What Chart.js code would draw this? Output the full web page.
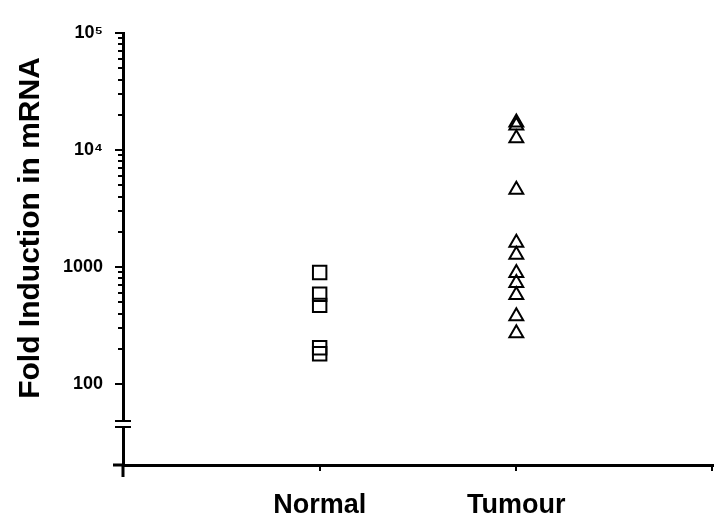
<!DOCTYPE html>
<html>
<head>
<meta charset="utf-8">
<script src="https://cdn.jsdelivr.net/npm/chart.js@4.4.1/dist/chart.umd.min.js"></script>
<style>
  html, body { margin: 0; padding: 0; background: #fff; }
  #wrap { width: 716px; height: 516px; }
</style>
</head>
<body>
<div id="wrap"><canvas id="chart" width="716" height="516"></canvas></div>
<script>
// data
const categories = ['Normal', 'Tumour'];
const normalValues = [897, 585, 470, 204, 181];
const tumourValues = [17200, 16200, 12600, 4580, 1610, 1270, 888, 729, 575, 380, 271];
const yTickValues = [100, 1000, 10000, 100000];
const yTickLabels = ['100', '1000', '10\u2074', '10\u2075'];
const yAxisTitle = 'Fold Induction in mRNA';

const ctx = document.getElementById('chart').getContext('2d');
const FONT = '"Liberation Sans", Arial, sans-serif';

// minor log ticks, axis break and the small axis overhangs
const axisExtras = {
  id: 'axisExtras',
  afterDraw(chart) {
    const { ctx, scales: { x, y }, chartArea: a } = chart;
    const ax = a.left;
    ctx.save();
    ctx.strokeStyle = '#000';
    ctx.lineWidth = 2;

    // y ticks (major longer)
    ctx.beginPath();
    for (let d = 2; d <= 5; d++) {
      for (let m = 1; m <= 9; m++) {
        const v = m * Math.pow(10, d);
        if (v > y.max) break;
        const py = Math.round(y.getPixelForValue(v));
        const len = m === 1 ? 8 : 5;
        ctx.moveTo(ax - len, py);
        ctx.lineTo(ax, py);
      }
    }
    ctx.stroke();

    // x ticks
    ctx.beginPath();
    [1, 2, 3].forEach(v => {
      const px = Math.min(Math.round(x.getPixelForValue(v)), a.right - 1);
      ctx.moveTo(px, a.bottom);
      ctx.lineTo(px, a.bottom + 6);
    });
    ctx.stroke();

    // overhangs at the origin
    ctx.lineWidth = 3;
    ctx.beginPath();
    ctx.moveTo(ax, a.bottom);
    ctx.lineTo(ax, a.bottom + 12);
    ctx.moveTo(ax - 10, a.bottom);
    ctx.lineTo(ax, a.bottom);
    ctx.stroke();

    // axis break
    const yb = Math.round((y.getPixelForValue(100) + a.bottom) / 2);
    ctx.fillStyle = '#fff';
    ctx.fillRect(ax - 3, yb - 3, 6, 6);
    ctx.lineWidth = 2;
    ctx.beginPath();
    ctx.moveTo(ax - 8, yb - 3);
    ctx.lineTo(ax + 8, yb - 3);
    ctx.moveTo(ax - 8, yb + 3);
    ctx.lineTo(ax + 8, yb + 3);
    ctx.stroke();

    // y axis title
    ctx.fillStyle = '#000';
    ctx.translate(31, 228);
    ctx.rotate(-Math.PI / 2);
    ctx.font = 'bold 30px ' + FONT;
    ctx.textAlign = 'center';
    ctx.textBaseline = 'middle';
    ctx.fillText(yAxisTitle, 0, 0);
    ctx.restore();
  }
};

const normalPoints = normalValues.map(v => ({ x: 1, y: v }));
const tumourPoints = tumourValues.map(v => ({ x: 2, y: v }));

new Chart(ctx, {
  type: 'scatter',
  data: {
    datasets: [
      {
        label: categories[0],
        data: normalPoints,
        pointStyle: 'rect',
        pointRadius: 9.5,
        borderWidth: 2,
        borderColor: '#000',
        backgroundColor: 'rgba(0,0,0,0)',
      },
      {
        label: categories[1],
        data: tumourPoints,
        pointStyle: 'triangle',
        pointRadius: 8,
        borderWidth: 2,
        borderColor: '#000',
        backgroundColor: 'rgba(0,0,0,0)',
      }
    ]
  },
  options: {
    responsive: false,
    animation: false,
    devicePixelRatio: 1,
    layout: { autoPadding: false, padding: { top: 33, right: 3, left: 0, bottom: 0 } },
    plugins: {
      legend: { display: false },
      tooltip: { enabled: false },
    },
    scales: {
      x: {
        type: 'linear',
        min: 0,
        max: 3,
        afterFit: (scale) => {
          scale.height = 51;
          scale.paddingLeft = 0;
          scale.paddingRight = 0;
        },
        afterBuildTicks: (scale) => { scale.ticks = [0, 1, 2, 3].map(v => ({ value: v })); },
        grid: { display: false, drawTicks: false },
        border: { display: true, color: '#000', width: 3 },
        ticks: {
          padding: 24,
          color: '#000',
          font: { family: FONT, size: 27, weight: 'bold' },
          maxRotation: 0,
          callback: (v) => categories[v - 1] || '',
        }
      },
      y: {
        type: 'logarithmic',
        min: 20.3,
        max: 100000,
        afterFit: (scale) => { scale.width = 123; },
        afterBuildTicks: (scale) => { scale.ticks = yTickValues.map(v => ({ value: v })); },
        grid: { display: false, drawTicks: false },
        border: { display: true, color: '#000', width: 3 },
        ticks: {
          padding: 20,
          color: '#000',
          font: { family: FONT, size: 18, weight: 'bold' },
          callback: (v) => {
            const i = yTickValues.indexOf(v);
            return i >= 0 ? yTickLabels[i] : '';
          }
        }
      }
    }
  },
  plugins: [axisExtras]
});
</script>
</body>
</html>
